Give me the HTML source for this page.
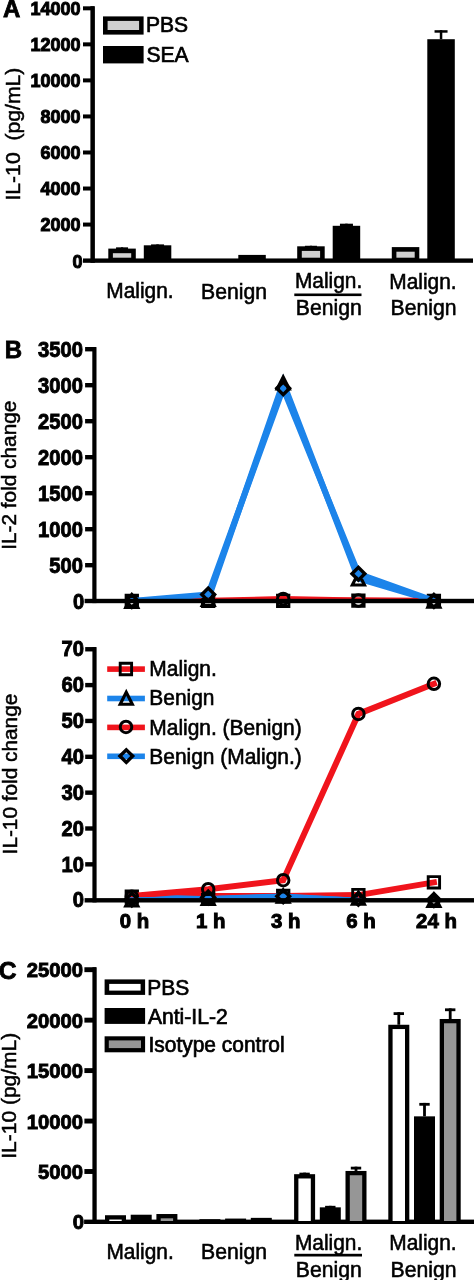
<!DOCTYPE html>
<html><head><meta charset="utf-8"><title>Figure</title>
<style>html,body{margin:0;padding:0;background:#fff}svg{display:block;will-change:transform}svg text{font-family:'Liberation Sans',Arial,Helvetica,sans-serif;fill:#000}</style></head>
<body><svg width="474" height="1280" viewBox="0 0 474 1280">
<rect width="474" height="1280" fill="#fff"/>
<rect x="90.40" y="6.20" width="4.50" height="256.60" fill="#000"/>
<rect x="83.00" y="258.45" width="390.00" height="4.35" fill="#000"/>
<rect x="83.00" y="222.56" width="11.00" height="4.00" fill="#000"/>
<rect x="83.00" y="186.52" width="11.00" height="4.00" fill="#000"/>
<rect x="83.00" y="150.48" width="11.00" height="4.00" fill="#000"/>
<rect x="83.00" y="114.44" width="11.00" height="4.00" fill="#000"/>
<rect x="83.00" y="78.40" width="11.00" height="4.00" fill="#000"/>
<rect x="83.00" y="42.36" width="11.00" height="4.00" fill="#000"/>
<rect x="83.00" y="6.32" width="11.00" height="4.00" fill="#000"/>
<text transform="translate(82.5 267.5)" font-size="18" font-weight="bold" text-anchor="end" stroke="#000" stroke-width="1.0">0</text>
<text transform="translate(80.6 230.96000000000004)" font-size="18" font-weight="bold" text-anchor="end" stroke="#000" stroke-width="1.0">2000</text>
<text transform="translate(80.6 194.92000000000004)" font-size="18" font-weight="bold" text-anchor="end" stroke="#000" stroke-width="1.0">4000</text>
<text transform="translate(80.6 158.88000000000002)" font-size="18" font-weight="bold" text-anchor="end" stroke="#000" stroke-width="1.0">6000</text>
<text transform="translate(80.6 122.84000000000003)" font-size="18" font-weight="bold" text-anchor="end" stroke="#000" stroke-width="1.0">8000</text>
<text transform="translate(80.6 86.80000000000001)" font-size="18" font-weight="bold" text-anchor="end" stroke="#000" stroke-width="1.0">10000</text>
<text transform="translate(80.6 50.76000000000001)" font-size="18" font-weight="bold" text-anchor="end" stroke="#000" stroke-width="1.0">12000</text>
<text transform="translate(80.6 14.719999999999994)" font-size="18" font-weight="bold" text-anchor="end" stroke="#000" stroke-width="1.0">14000</text>
<text transform="translate(3.1 17.3)" font-size="24.0" font-weight="bold" text-anchor="start" stroke="#000" stroke-width="0.8">A</text>
<text transform="translate(19.8 200.6) rotate(-90) scale(1 0.98)" font-size="21.2" text-anchor="start" stroke="#000" stroke-width="0.5">IL-10&#160;&#160;(pg/mL)</text>
<rect x="103.00" y="16.40" width="40.60" height="18.20" fill="#000"/>
<rect x="107.60" y="20.90" width="31.50" height="9.10" fill="#d0d0d0"/>
<rect x="103.00" y="46.00" width="40.60" height="17.40" fill="#000"/>
<text transform="translate(146.0 32.1) scale(0.995 1)" font-size="21.2" text-anchor="start" stroke="#000" stroke-width="0.7">PBS</text>
<text transform="translate(146.4 61.6) scale(0.995 1)" font-size="21.2" text-anchor="start" stroke="#000" stroke-width="0.7">SEA</text>
<rect x="120.95" y="247.34" width="2.20" height="1.26" fill="#000"/>
<rect x="116.05" y="247.34" width="12.00" height="2.20" fill="#000"/>
<rect x="108.30" y="248.60" width="27.50" height="12.00" fill="#000"/>
<rect x="112.90" y="253.20" width="18.30" height="4.50" fill="#d0d0d0"/>
<rect x="156.30" y="244.40" width="2.50" height="0.90" fill="#000"/>
<rect x="151.05" y="244.40" width="13.00" height="2.50" fill="#000"/>
<rect x="143.80" y="245.30" width="27.50" height="15.30" fill="#000"/>
<rect x="238.30" y="254.91" width="27.50" height="5.69" fill="#000"/>
<rect x="309.85" y="245.77" width="2.20" height="0.54" fill="#000"/>
<rect x="304.95" y="245.77" width="12.00" height="2.20" fill="#000"/>
<rect x="297.20" y="246.31" width="27.50" height="14.29" fill="#000"/>
<rect x="301.80" y="250.91" width="18.30" height="6.79" fill="#d0d0d0"/>
<rect x="345.20" y="223.70" width="2.50" height="2.11" fill="#000"/>
<rect x="339.95" y="223.70" width="13.00" height="2.50" fill="#000"/>
<rect x="332.70" y="225.80" width="27.50" height="34.80" fill="#000"/>
<rect x="391.80" y="247.10" width="27.50" height="13.50" fill="#000"/>
<rect x="396.40" y="251.70" width="18.30" height="6.00" fill="#d0d0d0"/>
<rect x="439.80" y="30.20" width="2.50" height="9.01" fill="#000"/>
<rect x="434.55" y="30.20" width="13.00" height="2.50" fill="#000"/>
<rect x="427.30" y="39.21" width="27.50" height="221.39" fill="#000"/>
<text transform="translate(139.9 298.2) scale(0.985 1)" font-size="21.2" text-anchor="middle" stroke="#000" stroke-width="0.55">Malign.</text>
<text transform="translate(234.1 298.8)" font-size="21.2" text-anchor="middle" stroke="#000" stroke-width="0.55">Benign</text>
<text transform="translate(328.6 288.0) scale(0.985 1)" font-size="21.2" text-anchor="middle" stroke="#000" stroke-width="0.55">Malign.</text>
<rect x="294.30" y="293.50" width="67.20" height="2.60" fill="#000"/>
<text transform="translate(328.8 314.8)" font-size="21.2" text-anchor="middle" stroke="#000" stroke-width="0.55">Benign</text>
<text transform="translate(422.9 288.7) scale(0.985 1)" font-size="21.2" text-anchor="middle" stroke="#000" stroke-width="0.55">Malign.</text>
<text transform="translate(423.6 315.1)" font-size="21.2" text-anchor="middle" stroke="#000" stroke-width="0.55">Benign</text>
<clipPath id="ct"><rect x="0" y="330" width="474" height="272.6"/></clipPath><clipPath id="cb"><rect x="0" y="630" width="474" height="271.9"/></clipPath>
<polyline clip-path="url(#ct)" fill="none" stroke="#f0141c" stroke-width="6.0" stroke-linejoin="miter" stroke-linecap="square" points="131.8,600.9 208.2,600.9 283.2,600.9 358.4,600.6 433.9,600.9"/>
<path d="M124.65,593.78 L138.95,593.78 L138.95,608.08 L124.65,608.08Z M127.55,596.68 L136.05,596.68 L136.05,605.18 L127.55,605.18Z" fill="#000" fill-rule="evenodd"/>
<path d="M201.05,593.78 L215.35,593.78 L215.35,608.08 L201.05,608.08Z M203.95,596.68 L212.45,596.68 L212.45,605.18 L203.95,605.18Z" fill="#000" fill-rule="evenodd"/>
<path d="M276.05,593.71 L290.35,593.71 L290.35,608.01 L276.05,608.01Z M278.95,596.61 L287.45,596.61 L287.45,605.11 L278.95,605.11Z" fill="#000" fill-rule="evenodd"/>
<path d="M351.25,593.49 L365.55,593.49 L365.55,607.79 L351.25,607.79Z M354.15,596.39 L362.65,596.39 L362.65,604.89 L354.15,604.89Z" fill="#000" fill-rule="evenodd"/>
<path d="M426.75,593.78 L441.05,593.78 L441.05,608.08 L426.75,608.08Z M429.65,596.68 L438.15,596.68 L438.15,605.18 L429.65,605.18Z" fill="#000" fill-rule="evenodd"/>
<polyline clip-path="url(#ct)" fill="none" stroke="#1c84ea" stroke-width="6.0" stroke-linejoin="miter" stroke-linecap="square" points="131.8,600.9 208.2,599.0 283.2,382.5 358.4,578.5 433.9,600.9"/>
<path d="M131.80,591.98 L140.40,608.88 L123.20,608.88Z M131.80,598.81 L135.34,605.78 L128.26,605.78Z" fill="#000" fill-rule="evenodd"/>
<path d="M208.20,590.03 L216.80,606.93 L199.60,606.93Z M208.20,596.87 L211.74,603.83 L204.66,603.83Z" fill="#000" fill-rule="evenodd"/>
<path d="M283.20,373.53 L291.80,390.43 L274.60,390.43Z M283.20,380.37 L286.74,387.33 L279.66,387.33Z" fill="#000" fill-rule="evenodd"/>
<path d="M358.40,569.59 L367.00,586.49 L349.80,586.49Z M358.40,576.42 L361.94,583.39 L354.86,583.39Z" fill="#000" fill-rule="evenodd"/>
<path d="M433.90,591.91 L442.50,608.81 L425.30,608.81Z M433.90,598.74 L437.44,605.71 L430.36,605.71Z" fill="#000" fill-rule="evenodd"/>
<polyline clip-path="url(#ct)" fill="none" stroke="#f0141c" stroke-width="6.0" stroke-linejoin="miter" stroke-linecap="square" points="131.8,600.9 208.2,600.8 283.2,599.0 358.4,600.6 433.9,600.9"/>
<circle cx="131.80" cy="600.93" r="5.75" fill="none" stroke="#000" stroke-width="3.0"/>
<circle cx="208.20" cy="600.78" r="5.75" fill="none" stroke="#000" stroke-width="3.0"/>
<circle cx="283.20" cy="598.98" r="5.75" fill="none" stroke="#000" stroke-width="3.0"/>
<circle cx="358.40" cy="600.57" r="5.75" fill="none" stroke="#000" stroke-width="3.0"/>
<circle cx="433.90" cy="600.86" r="5.75" fill="none" stroke="#000" stroke-width="3.0"/>
<polyline clip-path="url(#ct)" fill="none" stroke="#1c84ea" stroke-width="6.0" stroke-linejoin="miter" stroke-linecap="square" points="131.8,600.9 208.2,594.5 283.2,388.3 358.4,573.8 433.9,600.9"/>
<path d="M131.80,592.23 L140.60,600.93 L131.80,609.63 L123.00,600.93Z M131.80,597.01 L135.76,600.93 L131.80,604.85 L127.84,600.93Z" fill="#000" fill-rule="evenodd"/>
<path d="M208.20,585.82 L217.00,594.52 L208.20,603.22 L199.40,594.52Z M208.20,590.60 L212.16,594.52 L208.20,598.44 L204.24,594.52Z" fill="#000" fill-rule="evenodd"/>
<path d="M283.20,379.61 L292.00,388.31 L283.20,397.01 L274.40,388.31Z M283.20,384.39 L287.16,388.31 L283.20,392.23 L279.24,388.31Z" fill="#000" fill-rule="evenodd"/>
<path d="M358.40,565.08 L367.20,573.78 L358.40,582.48 L349.60,573.78Z M358.40,569.87 L362.36,573.78 L358.40,577.70 L354.44,573.78Z" fill="#000" fill-rule="evenodd"/>
<path d="M433.90,592.23 L442.70,600.93 L433.90,609.63 L425.10,600.93Z M433.90,597.01 L437.86,600.93 L433.90,604.85 L429.94,600.93Z" fill="#000" fill-rule="evenodd"/>
<rect x="92.30" y="347.10" width="4.20" height="256.00" fill="#000"/>
<rect x="84.60" y="598.80" width="389.40" height="4.40" fill="#000"/>
<rect x="85.10" y="563.00" width="10.90" height="4.40" fill="#000"/>
<rect x="85.10" y="527.00" width="10.90" height="4.40" fill="#000"/>
<rect x="85.10" y="491.00" width="10.90" height="4.40" fill="#000"/>
<rect x="85.10" y="455.00" width="10.90" height="4.40" fill="#000"/>
<rect x="85.10" y="419.00" width="10.90" height="4.40" fill="#000"/>
<rect x="85.10" y="383.00" width="10.90" height="4.40" fill="#000"/>
<rect x="85.10" y="347.00" width="10.90" height="4.40" fill="#000"/>
<text transform="translate(84.2 609.1) scale(0.95 1)" font-size="21.3" font-weight="bold" text-anchor="end" stroke="#000" stroke-width="0.9">0</text>
<text transform="translate(83.0 573.1) scale(0.95 1)" font-size="21.3" font-weight="bold" text-anchor="end" stroke="#000" stroke-width="0.9">500</text>
<text transform="translate(83.0 537.1) scale(0.95 1)" font-size="21.3" font-weight="bold" text-anchor="end" stroke="#000" stroke-width="0.9">1000</text>
<text transform="translate(83.0 501.1) scale(0.95 1)" font-size="21.3" font-weight="bold" text-anchor="end" stroke="#000" stroke-width="0.9">1500</text>
<text transform="translate(83.0 465.1) scale(0.95 1)" font-size="21.3" font-weight="bold" text-anchor="end" stroke="#000" stroke-width="0.9">2000</text>
<text transform="translate(83.0 429.1) scale(0.95 1)" font-size="21.3" font-weight="bold" text-anchor="end" stroke="#000" stroke-width="0.9">2500</text>
<text transform="translate(83.0 393.1) scale(0.95 1)" font-size="21.3" font-weight="bold" text-anchor="end" stroke="#000" stroke-width="0.9">3000</text>
<text transform="translate(83.0 357.1) scale(0.95 1)" font-size="21.3" font-weight="bold" text-anchor="end" stroke="#000" stroke-width="0.9">3500</text>
<text transform="translate(4.8 358.4)" font-size="24.0" font-weight="bold" text-anchor="start" stroke="#000" stroke-width="0.8">B</text>
<text transform="translate(16.1 549.8) rotate(-90)" font-size="20.8" text-anchor="start" stroke="#000" stroke-width="0.5">IL-2 fold change</text>
<polyline clip-path="url(#cb)" fill="none" stroke="#f0141c" stroke-width="6.0" stroke-linejoin="miter" stroke-linecap="square" points="131.8,896.0 208.2,896.0 283.2,896.0 358.4,895.1 433.9,882.4"/>
<path d="M124.65,889.56 L138.95,889.56 L138.95,903.86 L124.65,903.86Z M127.55,892.46 L136.05,892.46 L136.05,900.96 L127.55,900.96Z" fill="#000" fill-rule="evenodd"/>
<path d="M201.05,888.85 L215.35,888.85 L215.35,903.15 L201.05,903.15Z M203.95,891.75 L212.45,891.75 L212.45,900.25 L203.95,900.25Z" fill="#000" fill-rule="evenodd"/>
<path d="M276.05,888.85 L290.35,888.85 L290.35,903.15 L276.05,903.15Z M278.95,891.75 L287.45,891.75 L287.45,900.25 L278.95,900.25Z" fill="#000" fill-rule="evenodd"/>
<path d="M351.25,887.95 L365.55,887.95 L365.55,902.25 L351.25,902.25Z M354.15,890.85 L362.65,890.85 L362.65,899.35 L354.15,899.35Z" fill="#000" fill-rule="evenodd"/>
<path d="M426.75,875.23 L441.05,875.23 L441.05,889.52 L426.75,889.52Z M429.65,878.12 L438.15,878.12 L438.15,886.62 L429.65,886.62Z" fill="#000" fill-rule="evenodd"/>
<polyline clip-path="url(#cb)" fill="none" stroke="#1c84ea" stroke-width="6.0" stroke-linejoin="miter" stroke-linecap="square" points="131.8,896.7 208.2,899.2 283.2,897.1 358.4,900.7 433.9,902.5"/>
<path d="M131.80,890.60 L140.40,907.50 L123.20,907.50Z M131.80,897.43 L135.34,904.40 L128.26,904.40Z" fill="#000" fill-rule="evenodd"/>
<path d="M208.20,888.98 L216.80,905.88 L199.60,905.88Z M208.20,895.82 L211.74,902.78 L204.66,902.78Z" fill="#000" fill-rule="evenodd"/>
<path d="M283.20,886.90 L291.80,903.80 L274.60,903.80Z M283.20,893.74 L286.74,900.70 L279.66,900.70Z" fill="#000" fill-rule="evenodd"/>
<path d="M358.40,888.91 L367.00,905.81 L349.80,905.81Z M358.40,895.75 L361.94,902.71 L354.86,902.71Z" fill="#000" fill-rule="evenodd"/>
<path d="M433.90,891.21 L442.50,908.11 L425.30,908.11Z M433.90,898.04 L437.44,905.01 L430.36,905.01Z" fill="#000" fill-rule="evenodd"/>
<polyline clip-path="url(#cb)" fill="none" stroke="#f0141c" stroke-width="6.0" stroke-linejoin="miter" stroke-linecap="square" points="131.8,896.0 208.2,889.2 283.2,880.2 358.4,713.9 433.9,683.8"/>
<circle cx="131.80" cy="896.71" r="5.75" fill="none" stroke="#000" stroke-width="3.0"/>
<circle cx="208.20" cy="889.19" r="5.75" fill="none" stroke="#000" stroke-width="3.0"/>
<circle cx="283.20" cy="880.22" r="5.75" fill="none" stroke="#000" stroke-width="3.0"/>
<circle cx="358.40" cy="713.88" r="5.75" fill="none" stroke="#000" stroke-width="3.0"/>
<circle cx="433.90" cy="683.77" r="5.75" fill="none" stroke="#000" stroke-width="3.0"/>
<polyline clip-path="url(#cb)" fill="none" stroke="#1c84ea" stroke-width="6.0" stroke-linejoin="miter" stroke-linecap="square" points="131.8,900.3 208.2,898.9 283.2,896.4 358.4,900.7 433.9,902.5"/>
<path d="M131.80,890.88 L140.60,899.58 L131.80,908.28 L123.00,899.58Z M131.80,895.66 L135.76,899.58 L131.80,903.50 L127.84,899.58Z" fill="#000" fill-rule="evenodd"/>
<path d="M208.20,888.73 L217.00,897.43 L208.20,906.13 L199.40,897.43Z M208.20,893.51 L212.16,897.43 L208.20,901.35 L204.24,897.43Z" fill="#000" fill-rule="evenodd"/>
<path d="M283.20,887.66 L292.00,896.36 L283.20,905.06 L274.40,896.36Z M283.20,892.44 L287.16,896.36 L283.20,900.28 L279.24,896.36Z" fill="#000" fill-rule="evenodd"/>
<path d="M358.40,890.17 L367.20,898.87 L358.40,907.57 L349.60,898.87Z M358.40,894.95 L362.36,898.87 L358.40,902.78 L354.44,898.87Z" fill="#000" fill-rule="evenodd"/>
<path d="M433.90,891.24 L442.70,899.94 L433.90,908.64 L425.10,899.94Z M433.90,896.02 L437.86,899.94 L433.90,903.86 L429.94,899.94Z" fill="#000" fill-rule="evenodd"/>
<rect x="92.40" y="647.10" width="4.20" height="255.30" fill="#000"/>
<rect x="84.60" y="898.10" width="389.40" height="4.40" fill="#000"/>
<rect x="85.20" y="862.15" width="10.80" height="4.40" fill="#000"/>
<rect x="85.20" y="826.30" width="10.80" height="4.40" fill="#000"/>
<rect x="85.20" y="790.45" width="10.80" height="4.40" fill="#000"/>
<rect x="85.20" y="754.60" width="10.80" height="4.40" fill="#000"/>
<rect x="85.20" y="718.75" width="10.80" height="4.40" fill="#000"/>
<rect x="85.20" y="682.90" width="10.80" height="4.40" fill="#000"/>
<rect x="85.20" y="647.05" width="10.80" height="4.40" fill="#000"/>
<text transform="translate(84.0 907.4) scale(0.95 1)" font-size="21.3" font-weight="bold" text-anchor="end" stroke="#000" stroke-width="0.9">0</text>
<text transform="translate(84.0 871.55) scale(0.95 1)" font-size="21.3" font-weight="bold" text-anchor="end" stroke="#000" stroke-width="0.9">10</text>
<text transform="translate(84.0 835.6999999999999) scale(0.95 1)" font-size="21.3" font-weight="bold" text-anchor="end" stroke="#000" stroke-width="0.9">20</text>
<text transform="translate(84.0 799.85) scale(0.95 1)" font-size="21.3" font-weight="bold" text-anchor="end" stroke="#000" stroke-width="0.9">30</text>
<text transform="translate(84.0 764.0) scale(0.95 1)" font-size="21.3" font-weight="bold" text-anchor="end" stroke="#000" stroke-width="0.9">40</text>
<text transform="translate(84.0 728.15) scale(0.95 1)" font-size="21.3" font-weight="bold" text-anchor="end" stroke="#000" stroke-width="0.9">50</text>
<text transform="translate(84.0 692.3) scale(0.95 1)" font-size="21.3" font-weight="bold" text-anchor="end" stroke="#000" stroke-width="0.9">60</text>
<text transform="translate(84.0 656.4499999999999) scale(0.95 1)" font-size="21.3" font-weight="bold" text-anchor="end" stroke="#000" stroke-width="0.9">70</text>
<text transform="translate(16.5 854.4) rotate(-90)" font-size="20.8" text-anchor="start" stroke="#000" stroke-width="0.5">IL-10 fold change</text>
<text transform="translate(134.4 927.6)" font-size="20.4" font-weight="bold" text-anchor="middle" stroke="#000" stroke-width="1.0">0 h</text>
<text transform="translate(210.79999999999998 927.6)" font-size="20.4" font-weight="bold" text-anchor="middle" stroke="#000" stroke-width="1.0">1 h</text>
<text transform="translate(285.8 927.6)" font-size="20.4" font-weight="bold" text-anchor="middle" stroke="#000" stroke-width="1.0">3 h</text>
<text transform="translate(361.0 927.6)" font-size="20.4" font-weight="bold" text-anchor="middle" stroke="#000" stroke-width="1.0">6 h</text>
<text transform="translate(436.5 927.6)" font-size="20.4" font-weight="bold" text-anchor="middle" stroke="#000" stroke-width="1.0">24 h</text>
<rect x="107.20" y="666.30" width="37.70" height="5.60" fill="#f0141c"/>
<rect x="107.20" y="695.70" width="37.70" height="5.60" fill="#1c84ea"/>
<rect x="107.20" y="724.60" width="37.70" height="5.60" fill="#f0141c"/>
<rect x="107.20" y="753.50" width="37.70" height="5.60" fill="#1c84ea"/>
<path d="M118.75,661.85 L133.05,661.85 L133.05,676.15 L118.75,676.15Z M121.65,664.75 L130.15,664.75 L130.15,673.25 L121.65,673.25Z" fill="#000" fill-rule="evenodd"/>
<path d="M126.25,688.85 L134.85,705.75 L117.65,705.75Z M126.25,695.69 L129.79,702.65 L122.71,702.65Z" fill="#000" fill-rule="evenodd"/>
<circle cx="126.00" cy="726.90" r="5.75" fill="none" stroke="#000" stroke-width="3.0"/>
<path d="M126.30,747.40 L135.10,756.10 L126.30,764.80 L117.50,756.10Z M126.30,752.18 L130.26,756.10 L126.30,760.02 L122.34,756.10Z" fill="#000" fill-rule="evenodd"/>
<text transform="translate(149.3 675.8) scale(0.988 1)" font-size="21.2" text-anchor="start" stroke="#000" stroke-width="0.6">Malign.</text>
<text transform="translate(149.3 704.8) scale(0.988 1)" font-size="21.2" text-anchor="start" stroke="#000" stroke-width="0.6">Benign</text>
<text transform="translate(149.3 735.0) scale(0.988 1)" font-size="21.2" text-anchor="start" stroke="#000" stroke-width="0.6">Malign. (Benign)</text>
<text transform="translate(149.3 764.2) scale(0.988 1)" font-size="21.2" text-anchor="start" stroke="#000" stroke-width="0.6">Benign (Malign.)</text>
<rect x="92.40" y="967.25" width="4.30" height="256.75" fill="#000"/>
<rect x="84.10" y="1219.60" width="389.90" height="4.40" fill="#000"/>
<rect x="84.40" y="1169.05" width="11.60" height="4.90" fill="#000"/>
<rect x="84.40" y="1118.60" width="11.60" height="4.90" fill="#000"/>
<rect x="84.40" y="1068.15" width="11.60" height="4.90" fill="#000"/>
<rect x="84.40" y="1017.70" width="11.60" height="4.90" fill="#000"/>
<rect x="84.40" y="967.25" width="11.60" height="4.90" fill="#000"/>
<text transform="translate(84.0 1229.3500000000001) scale(0.975 1)" font-size="20.8" font-weight="bold" text-anchor="end" stroke="#000" stroke-width="0.9">0</text>
<text transform="translate(83.0 1179.1) scale(0.975 1)" font-size="20.8" font-weight="bold" text-anchor="end" stroke="#000" stroke-width="0.9">5000</text>
<text transform="translate(83.0 1128.6499999999999) scale(0.975 1)" font-size="20.8" font-weight="bold" text-anchor="end" stroke="#000" stroke-width="0.9">10000</text>
<text transform="translate(83.0 1078.2) scale(0.975 1)" font-size="20.8" font-weight="bold" text-anchor="end" stroke="#000" stroke-width="0.9">15000</text>
<text transform="translate(83.0 1027.75) scale(0.975 1)" font-size="20.8" font-weight="bold" text-anchor="end" stroke="#000" stroke-width="0.9">20000</text>
<text transform="translate(83.0 977.3000000000001) scale(0.975 1)" font-size="20.8" font-weight="bold" text-anchor="end" stroke="#000" stroke-width="0.9">25000</text>
<text transform="translate(-1.2 979.2)" font-size="24.6" font-weight="bold" text-anchor="start" stroke="#000" stroke-width="0.8">C</text>
<text transform="translate(16.0 1158.8) rotate(-90)" font-size="21" text-anchor="start" stroke="#000" stroke-width="0.5">IL-10 (pg/mL)</text>
<rect x="104.60" y="979.40" width="40.50" height="15.50" fill="#000"/>
<rect x="109.20" y="983.90" width="31.40" height="6.70" fill="#fff"/>
<rect x="104.60" y="1008.00" width="40.50" height="15.90" fill="#000"/>
<rect x="104.60" y="1036.30" width="40.50" height="16.00" fill="#000"/>
<rect x="108.80" y="1040.40" width="32.20" height="7.70" fill="#969696"/>
<text transform="translate(147.3 994.7) scale(0.99 1)" font-size="21.2" text-anchor="start" stroke="#000" stroke-width="0.7">PBS</text>
<text transform="translate(147.9 1023.6) scale(0.996 1)" font-size="21.2" text-anchor="start" stroke="#000" stroke-width="0.7">Anti-IL-2</text>
<text transform="translate(148.5 1051.8) scale(0.988 1)" font-size="21.2" text-anchor="start" stroke="#000" stroke-width="0.7">Isotype control</text>
<rect x="105.00" y="1215.23" width="21.00" height="5.77" fill="#000"/>
<rect x="109.30" y="1219.53" width="12.40" height="1.47" fill="#fff"/>
<rect x="130.70" y="1214.72" width="21.00" height="6.28" fill="#000"/>
<rect x="156.40" y="1214.02" width="21.00" height="6.98" fill="#000"/>
<rect x="160.70" y="1218.32" width="12.40" height="2.68" fill="#969696"/>
<rect x="199.40" y="1219.17" width="21.00" height="1.83" fill="#000"/>
<rect x="225.10" y="1218.57" width="21.00" height="2.43" fill="#000"/>
<rect x="250.80" y="1217.86" width="21.00" height="3.14" fill="#000"/>
<rect x="303.20" y="1172.67" width="2.80" height="1.52" fill="#000"/>
<rect x="299.40" y="1172.67" width="10.40" height="2.80" fill="#000"/>
<rect x="294.10" y="1174.18" width="21.00" height="46.82" fill="#000"/>
<rect x="298.40" y="1178.48" width="12.40" height="42.52" fill="#fff"/>
<rect x="328.90" y="1205.83" width="2.80" height="1.52" fill="#000"/>
<rect x="325.10" y="1205.83" width="10.40" height="2.80" fill="#000"/>
<rect x="319.80" y="1207.34" width="21.00" height="13.66" fill="#000"/>
<rect x="354.60" y="1166.70" width="2.80" height="4.25" fill="#000"/>
<rect x="350.80" y="1166.70" width="10.40" height="2.80" fill="#000"/>
<rect x="345.50" y="1170.95" width="21.00" height="50.05" fill="#000"/>
<rect x="349.80" y="1175.25" width="12.40" height="45.75" fill="#969696"/>
<rect x="397.40" y="1012.22" width="2.80" height="12.54" fill="#000"/>
<rect x="393.60" y="1012.22" width="10.40" height="2.80" fill="#000"/>
<rect x="388.30" y="1024.76" width="21.00" height="196.24" fill="#000"/>
<rect x="392.60" y="1029.06" width="12.40" height="191.94" fill="#fff"/>
<rect x="423.10" y="1102.91" width="2.80" height="13.45" fill="#000"/>
<rect x="419.30" y="1102.91" width="10.40" height="2.80" fill="#000"/>
<rect x="414.00" y="1116.35" width="21.00" height="104.65" fill="#000"/>
<rect x="448.80" y="1008.38" width="2.80" height="10.62" fill="#000"/>
<rect x="445.00" y="1008.38" width="10.40" height="2.80" fill="#000"/>
<rect x="439.70" y="1018.99" width="21.00" height="202.01" fill="#000"/>
<rect x="444.00" y="1023.29" width="12.40" height="197.71" fill="#969696"/>
<text transform="translate(140.1 1259.0) scale(0.985 1)" font-size="21.2" text-anchor="middle" stroke="#000" stroke-width="0.55">Malign.</text>
<text transform="translate(234.1 1259.0)" font-size="21.2" text-anchor="middle" stroke="#000" stroke-width="0.55">Benign</text>
<text transform="translate(328.6 1250.1) scale(0.985 1)" font-size="21.2" text-anchor="middle" stroke="#000" stroke-width="0.55">Malign.</text>
<rect x="294.30" y="1253.80" width="67.70" height="2.70" fill="#000"/>
<text transform="translate(328.8 1276.9)" font-size="21.2" text-anchor="middle" stroke="#000" stroke-width="0.55">Benign</text>
<text transform="translate(422.9 1250.1) scale(0.985 1)" font-size="21.2" text-anchor="middle" stroke="#000" stroke-width="0.55">Malign.</text>
<text transform="translate(423.6 1276.9)" font-size="21.2" text-anchor="middle" stroke="#000" stroke-width="0.55">Benign</text>
</svg></body></html>
